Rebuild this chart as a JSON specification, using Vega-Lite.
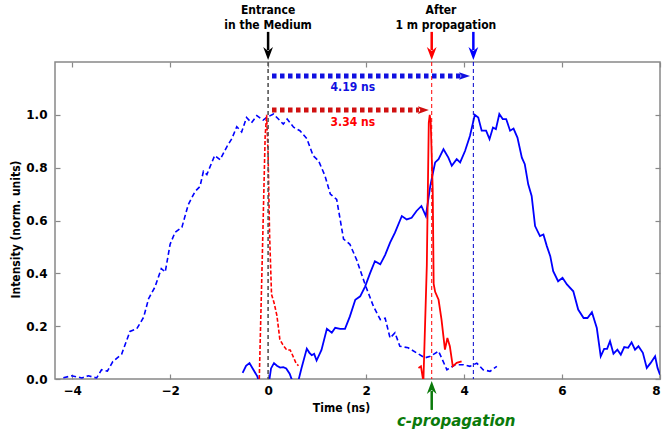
{
  "$schema": "https://vega.github.io/schema/vega-lite/v6.json",
  "autosize": {"type": "none"},
  "padding": {"left": 55, "top": 62, "right": 3, "bottom": 52},
  "width": 605,
  "height": 317,
  "config": {
    "view": {"stroke": "#888888", "strokeWidth": 1.5},
    "axis": {"grid": false, "domain": false, "tickColor": "#888888", "tickWidth": 1.2, "labelFont": "DejaVu Sans", "labelFontWeight": "bold", "labelFontSize": 12, "labelColor": "#000000", "titleFont": "DejaVu Sans Condensed", "titleFontWeight": "bold", "titleFontSize": 12, "titleColor": "#000000"},
    "text": {"font": "DejaVu Sans Condensed", "fontWeight": "bold"}
  },
  "datasets": {
    "inBroad": [
      {"t": -4.18, "v": 0.005}, {"t": -4.01, "v": 0.012}, {"t": -3.8, "v": 0.004}, {"t": -3.67, "v": 0.012}, {"t": -3.5, "v": 0.004}, {"t": -3.4, "v": 0.035}, {"t": -3.28, "v": 0.03}, {"t": -3.17, "v": 0.066}, {"t": -2.99, "v": 0.094}, {"t": -2.82, "v": 0.18}, {"t": -2.68, "v": 0.19}, {"t": -2.54, "v": 0.234}, {"t": -2.44, "v": 0.304}, {"t": -2.31, "v": 0.348}, {"t": -2.18, "v": 0.418}, {"t": -2.1, "v": 0.405}, {"t": -2.0, "v": 0.51}, {"t": -1.9, "v": 0.555}, {"t": -1.76, "v": 0.574}, {"t": -1.63, "v": 0.66}, {"t": -1.49, "v": 0.71}, {"t": -1.39, "v": 0.729}, {"t": -1.32, "v": 0.786}, {"t": -1.25, "v": 0.774}, {"t": -1.09, "v": 0.846}, {"t": -0.98, "v": 0.83}, {"t": -0.84, "v": 0.88}, {"t": -0.74, "v": 0.91}, {"t": -0.64, "v": 0.955}, {"t": -0.54, "v": 0.935}, {"t": -0.44, "v": 0.99}, {"t": -0.34, "v": 0.97}, {"t": -0.23, "v": 0.997}, {"t": -0.1, "v": 0.98}, {"t": -0.03, "v": 0.99}, {"t": 0.11, "v": 1.003}, {"t": 0.21, "v": 0.984}, {"t": 0.31, "v": 0.965}, {"t": 0.39, "v": 0.984}, {"t": 0.52, "v": 0.953}, {"t": 0.65, "v": 0.94}, {"t": 0.79, "v": 0.91}, {"t": 0.92, "v": 0.845}, {"t": 1.03, "v": 0.826}, {"t": 1.16, "v": 0.77}, {"t": 1.27, "v": 0.7}, {"t": 1.4, "v": 0.68}, {"t": 1.54, "v": 0.53}, {"t": 1.67, "v": 0.51}, {"t": 1.81, "v": 0.45}, {"t": 1.98, "v": 0.358}, {"t": 2.15, "v": 0.275}, {"t": 2.29, "v": 0.225}, {"t": 2.39, "v": 0.23}, {"t": 2.49, "v": 0.155}, {"t": 2.59, "v": 0.175}, {"t": 2.69, "v": 0.124}, {"t": 2.86, "v": 0.118}, {"t": 3.03, "v": 0.099}, {"t": 3.2, "v": 0.08}, {"t": 3.31, "v": 0.086}, {"t": 3.48, "v": 0.105}, {"t": 3.65, "v": 0.035}, {"t": 3.82, "v": 0.054}, {"t": 3.99, "v": 0.054}, {"t": 4.12, "v": 0.048}, {"t": 4.26, "v": 0.06}, {"t": 4.39, "v": 0.035}, {"t": 4.53, "v": 0.029}, {"t": 4.67, "v": 0.048}
    ],
    "inNarrow": [
      {"t": -0.18, "v": 0.0}, {"t": -0.12, "v": 0.45}, {"t": -0.06, "v": 0.92}, {"t": -0.03, "v": 1.0}, {"t": 0.0, "v": 0.85}, {"t": 0.03, "v": 0.55}, {"t": 0.07, "v": 0.32}, {"t": 0.12, "v": 0.29}, {"t": 0.18, "v": 0.24}, {"t": 0.24, "v": 0.15}, {"t": 0.3, "v": 0.13}, {"t": 0.38, "v": 0.11}, {"t": 0.45, "v": 0.11}, {"t": 0.5, "v": 0.09}, {"t": 0.57, "v": 0.06}, {"t": 0.62, "v": 0.05}
    ],
    "outBroad": [
      {"t": -0.52, "v": 0.023}, {"t": -0.45, "v": 0.05}, {"t": -0.38, "v": 0.06}, {"t": -0.3, "v": 0.035}, {"t": -0.22, "v": 0.01}, {"t": -0.15, "v": -0.03}, {"t": -0.05, "v": -0.03}, {"t": 0.02, "v": -0.01}, {"t": 0.06, "v": 0.04}, {"t": 0.12, "v": 0.06}, {"t": 0.18, "v": 0.05}, {"t": 0.245, "v": 0.043}, {"t": 0.31, "v": 0.045}, {"t": 0.37, "v": 0.04}, {"t": 0.44, "v": 0.02}, {"t": 0.5, "v": -0.01}, {"t": 0.57, "v": -0.02}, {"t": 0.62, "v": -0.005}, {"t": 0.68, "v": 0.04}, {"t": 0.79, "v": 0.115}, {"t": 0.84, "v": 0.1}, {"t": 0.89, "v": 0.09}, {"t": 0.94, "v": 0.095}, {"t": 0.99, "v": 0.07}, {"t": 1.09, "v": 0.11}, {"t": 1.2, "v": 0.19}, {"t": 1.3, "v": 0.175}, {"t": 1.37, "v": 0.194}, {"t": 1.47, "v": 0.19}, {"t": 1.57, "v": 0.19}, {"t": 1.67, "v": 0.237}, {"t": 1.78, "v": 0.3}, {"t": 1.88, "v": 0.313}, {"t": 1.98, "v": 0.35}, {"t": 2.08, "v": 0.4}, {"t": 2.18, "v": 0.446}, {"t": 2.29, "v": 0.434}, {"t": 2.39, "v": 0.47}, {"t": 2.49, "v": 0.516}, {"t": 2.59, "v": 0.554}, {"t": 2.73, "v": 0.617}, {"t": 2.83, "v": 0.604}, {"t": 2.93, "v": 0.61}, {"t": 3.03, "v": 0.636}, {"t": 3.13, "v": 0.655}, {"t": 3.22, "v": 0.617}, {"t": 3.31, "v": 0.73}, {"t": 3.41, "v": 0.82}, {"t": 3.48, "v": 0.832}, {"t": 3.58, "v": 0.87}, {"t": 3.68, "v": 0.838}, {"t": 3.75, "v": 0.807}, {"t": 3.85, "v": 0.832}, {"t": 3.92, "v": 0.82}, {"t": 4.02, "v": 0.863}, {"t": 4.12, "v": 0.92}, {"t": 4.22, "v": 1.0}, {"t": 4.29, "v": 0.99}, {"t": 4.36, "v": 0.94}, {"t": 4.45, "v": 0.94}, {"t": 4.52, "v": 0.908}, {"t": 4.59, "v": 0.952}, {"t": 4.65, "v": 0.946}, {"t": 4.72, "v": 1.003}, {"t": 4.79, "v": 0.984}, {"t": 4.86, "v": 0.984}, {"t": 4.94, "v": 0.94}, {"t": 5.01, "v": 0.948}, {"t": 5.09, "v": 0.914}, {"t": 5.18, "v": 0.838}, {"t": 5.24, "v": 0.813}, {"t": 5.31, "v": 0.737}, {"t": 5.38, "v": 0.693}, {"t": 5.45, "v": 0.579}, {"t": 5.55, "v": 0.541}, {"t": 5.62, "v": 0.547}, {"t": 5.69, "v": 0.503}, {"t": 5.76, "v": 0.465}, {"t": 5.82, "v": 0.408}, {"t": 5.92, "v": 0.37}, {"t": 6.01, "v": 0.383}, {"t": 6.1, "v": 0.358}, {"t": 6.23, "v": 0.332}, {"t": 6.33, "v": 0.263}, {"t": 6.44, "v": 0.231}, {"t": 6.52, "v": 0.231}, {"t": 6.61, "v": 0.253}, {"t": 6.71, "v": 0.193}, {"t": 6.79, "v": 0.086}, {"t": 6.86, "v": 0.114}, {"t": 6.92, "v": 0.114}, {"t": 6.98, "v": 0.143}, {"t": 7.05, "v": 0.096}, {"t": 7.13, "v": 0.111}, {"t": 7.2, "v": 0.092}, {"t": 7.27, "v": 0.121}, {"t": 7.35, "v": 0.118}, {"t": 7.42, "v": 0.139}, {"t": 7.49, "v": 0.111}, {"t": 7.56, "v": 0.124}, {"t": 7.65, "v": 0.099}, {"t": 7.73, "v": 0.042}, {"t": 7.81, "v": 0.061}, {"t": 7.9, "v": 0.086}, {"t": 7.95, "v": 0.042}, {"t": 8.0, "v": 0.016}
    ],
    "outNarrow": [
      {"t": 3.07, "v": 0.042}, {"t": 3.12, "v": 0.048}, {"t": 3.17, "v": -0.01}, {"t": 3.24, "v": 0.43}, {"t": 3.28, "v": 0.97}, {"t": 3.3, "v": 1.0}, {"t": 3.32, "v": 0.97}, {"t": 3.36, "v": 0.72}, {"t": 3.38, "v": 0.36}, {"t": 3.41, "v": 0.33}, {"t": 3.48, "v": 0.3}, {"t": 3.54, "v": 0.225}, {"t": 3.61, "v": 0.111}, {"t": 3.66, "v": 0.155}, {"t": 3.71, "v": 0.124}, {"t": 3.77, "v": 0.048}, {"t": 3.85, "v": 0.061}, {"t": 3.95, "v": 0.067}
    ]
  },
  "resolve": {"axis": {"x": "independent", "y": "independent"}},
  "layer": [
    {
      "data": {"name": "inBroad"},
      "mark": {"type": "line", "color": "#0000ff", "strokeWidth": 1.6, "strokeDash": [5, 3]},
      "encoding": {
        "x": {"field": "t", "type": "quantitative", "scale": {"domain": [-4.35, 8], "nice": false, "zero": false},
          "axis": {"orient": "bottom", "values": [-4, -2, 0, 2, 4, 6, 8], "tickSize": -5, "labelPadding": 11, "title": "Time (ns)", "titleX": 286, "titleY": 28, "titleBaseline": "middle"}},
        "y": {"field": "v", "type": "quantitative", "scale": {"domain": [0, 1.2], "nice": false, "zero": false},
          "axis": {"orient": "left", "values": [0, 0.2, 0.4, 0.6, 0.8, 1.0], "format": ".1f", "tickSize": -5, "labelPadding": 13, "title": "Intensity  (norm. units)", "titleX": -40, "titleY": 167, "titleBaseline": "middle", "titleAngle": -90}}
      }
    },
    {
      "data": {"name": "outBroad"},
      "mark": {"type": "line", "color": "#0000ff", "strokeWidth": 1.8, "clip": true},
      "encoding": {
        "x": {"field": "t", "type": "quantitative", "scale": {"domain": [-4.35, 8], "nice": false, "zero": false},
          "axis": {"orient": "top", "values": [-4, -2, 0, 2, 4, 6, 8], "tickSize": -5, "labels": false, "title": null}},
        "y": {"field": "v", "type": "quantitative", "scale": {"domain": [0, 1.2], "nice": false, "zero": false},
          "axis": {"orient": "right", "values": [0, 0.2, 0.4, 0.6, 0.8, 1.0], "tickSize": -5, "labels": false, "title": null}}
      }
    },
    {
      "data": {"name": "inNarrow"},
      "mark": {"type": "line", "color": "#ff0000", "strokeWidth": 1.6, "strokeDash": [4, 2]},
      "encoding": {
        "x": {"field": "t", "type": "quantitative", "scale": {"domain": [-4.35, 8], "nice": false, "zero": false}, "axis": null},
        "y": {"field": "v", "type": "quantitative", "scale": {"domain": [0, 1.2], "nice": false, "zero": false}, "axis": null}
      }
    },
    {
      "data": {"name": "outNarrow"},
      "mark": {"type": "line", "color": "#ff0000", "strokeWidth": 1.8, "clip": true},
      "encoding": {
        "x": {"field": "t", "type": "quantitative", "scale": {"domain": [-4.35, 8], "nice": false, "zero": false}, "axis": null},
        "y": {"field": "v", "type": "quantitative", "scale": {"domain": [0, 1.2], "nice": false, "zero": false}, "axis": null}
      }
    },
    {
      "data": {"values": [{"t": 0, "c": "#555555"}]},
      "mark": {"type": "rule", "strokeWidth": 1.6, "strokeDash": [4, 3]},
      "encoding": {
        "x": {"field": "t", "type": "quantitative", "scale": {"domain": [-4.35, 8], "nice": false, "zero": false}, "axis": null},
        "color": {"field": "c", "type": "nominal", "scale": null}
      }
    },
    {
      "data": {"values": [{"t": 3.34, "c": "#ff0000"}, {"t": 4.19, "c": "#0000cc"}]},
      "mark": {"type": "rule", "strokeWidth": 1, "strokeDash": [4, 3]},
      "encoding": {
        "x": {"field": "t", "type": "quantitative", "scale": {"domain": [-4.35, 8], "nice": false, "zero": false}, "axis": null},
        "color": {"field": "c", "type": "nominal", "scale": null}
      }
    },
    {
      "data": {"values": [{"t0": 0.08, "t1": 3.95, "v": 1.147, "c": "#1010e0"}, {"t0": 0.08, "t1": 3.08, "v": 1.018, "c": "#d01010"}]},
      "mark": {"type": "rule", "strokeWidth": 5, "strokeDash": [4.5, 3.5]},
      "encoding": {
        "x": {"field": "t0", "type": "quantitative", "scale": {"domain": [-4.35, 8], "nice": false, "zero": false}, "axis": null},
        "x2": {"field": "t1"},
        "y": {"field": "v", "type": "quantitative", "scale": {"domain": [0, 1.2], "nice": false, "zero": false}, "axis": null},
        "color": {"field": "c", "type": "nominal", "scale": null}
      }
    },
    {
      "data": {"values": [{"t": 4.01, "v": 1.147, "c": "#1010e0"}, {"t": 3.17, "v": 1.018, "c": "#d01010"}]},
      "mark": {"type": "point", "shape": "M -1 -0.7 L 1 0 L -1 0.7 L -0.55 0 Z", "filled": true, "opacity": 1, "size": 121, "strokeWidth": 0},
      "encoding": {
        "x": {"field": "t", "type": "quantitative", "scale": {"domain": [-4.35, 8], "nice": false, "zero": false}, "axis": null},
        "y": {"field": "v", "type": "quantitative", "scale": {"domain": [0, 1.2], "nice": false, "zero": false}, "axis": null},
        "color": {"field": "c", "type": "nominal", "scale": null}
      }
    },
    {
      "data": {"values": [{"t": 0, "v0": 1.314, "v1": 1.245, "c": "#000000"}, {"t": 3.34, "v0": 1.314, "v1": 1.245, "c": "#ff0000"}, {"t": 4.19, "v0": 1.314, "v1": 1.245, "c": "#0000ff"}, {"t": 3.34, "v0": -0.117, "v1": -0.045, "c": "#0b7a0b"}]},
      "mark": {"type": "rule", "strokeWidth": 2.5},
      "encoding": {
        "x": {"field": "t", "type": "quantitative", "scale": {"domain": [-4.35, 8], "nice": false, "zero": false}, "axis": null},
        "y": {"field": "v0", "type": "quantitative", "scale": {"domain": [0, 1.2], "nice": false, "zero": false}, "axis": null},
        "y2": {"field": "v1"},
        "color": {"field": "c", "type": "nominal", "scale": null}
      }
    },
    {
      "data": {"values": [{"t": 0, "v": 1.232, "c": "#000000"}, {"t": 3.34, "v": 1.232, "c": "#ff0000"}, {"t": 4.19, "v": 1.232, "c": "#0000ff"}]},
      "mark": {"type": "point", "shape": "M -0.75 -1 L 0 1 L 0.75 -1 L 0 -0.4 Z", "filled": true, "opacity": 1, "size": 169, "strokeWidth": 0},
      "encoding": {
        "x": {"field": "t", "type": "quantitative", "scale": {"domain": [-4.35, 8], "nice": false, "zero": false}, "axis": null},
        "y": {"field": "v", "type": "quantitative", "scale": {"domain": [0, 1.2], "nice": false, "zero": false}, "axis": null},
        "color": {"field": "c", "type": "nominal", "scale": null}
      }
    },
    {
      "data": {"values": [{"t": 3.34, "v": -0.032, "c": "#0b7a0b"}]},
      "mark": {"type": "point", "shape": "M -0.75 1 L 0 -1 L 0.75 1 L 0 0.4 Z", "filled": true, "opacity": 1, "size": 169, "strokeWidth": 0},
      "encoding": {
        "x": {"field": "t", "type": "quantitative", "scale": {"domain": [-4.35, 8], "nice": false, "zero": false}, "axis": null},
        "y": {"field": "v", "type": "quantitative", "scale": {"domain": [0, 1.2], "nice": false, "zero": false}, "axis": null},
        "color": {"field": "c", "type": "nominal", "scale": null}
      }
    },
    {
      "data": {"values": [
        {"label": "Entrance", "t": 0, "v": 1.395, "c": "#000000"},
        {"label": "in the Medium", "t": 0, "v": 1.341, "c": "#000000"},
        {"label": "After", "t": 3.53, "v": 1.395, "c": "#000000"},
        {"label": "1 m propagation", "t": 3.63, "v": 1.341, "c": "#000000"},
        {"label": "4.19 ns", "t": 1.73, "v": 1.105, "c": "#1010e0"},
        {"label": "3.34 ns", "t": 1.73, "v": 0.973, "c": "#ff0000"}
      ]},
      "mark": {"type": "text", "fontSize": 12, "align": "center", "baseline": "middle"},
      "encoding": {
        "x": {"field": "t", "type": "quantitative", "scale": {"domain": [-4.35, 8], "nice": false, "zero": false}, "axis": null},
        "y": {"field": "v", "type": "quantitative", "scale": {"domain": [0, 1.2], "nice": false, "zero": false}, "axis": null},
        "text": {"field": "label"},
        "color": {"field": "c", "type": "nominal", "scale": null}
      }
    },
    {
      "data": {"values": [{"label": "c-propagation", "t": 3.84, "v": -0.159, "c": "#0b7a0b"}]},
      "mark": {"type": "text", "font": "DejaVu Sans", "fontSize": 15, "fontStyle": "italic", "fontWeight": "bold", "align": "center", "baseline": "middle"},
      "encoding": {
        "x": {"field": "t", "type": "quantitative", "scale": {"domain": [-4.35, 8], "nice": false, "zero": false}, "axis": null},
        "y": {"field": "v", "type": "quantitative", "scale": {"domain": [0, 1.2], "nice": false, "zero": false}, "axis": null},
        "text": {"field": "label"},
        "color": {"field": "c", "type": "nominal", "scale": null}
      }
    }
  ]
}
